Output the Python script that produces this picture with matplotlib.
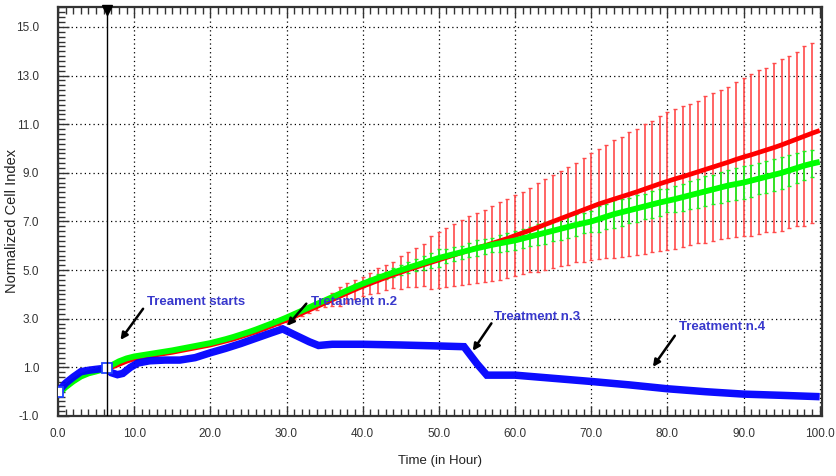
import matplotlib
matplotlib.use("Agg")
import matplotlib.pyplot as plt
import matplotlib.transforms as mtransforms
from matplotlib.ticker import MultipleLocator, FixedLocator
import numpy as np

# hourly sampling of the two growing cell populations
hours = list(range(0, 101))

red_mean = [
    -0.05, 0.20, 0.45, 0.65, 0.78, 0.85, 0.92, 1.00, 1.12, 1.25,
    1.35, 1.42, 1.47, 1.52, 1.57, 1.62, 1.68, 1.74, 1.80, 1.86,
    1.92, 2.00, 2.08, 2.16, 2.26, 2.36, 2.46, 2.58, 2.70, 2.82,
    2.94, 3.08, 3.22, 3.36, 3.50, 3.64, 3.78, 3.92, 4.06, 4.20,
    4.33, 4.45, 4.57, 4.69, 4.80, 4.91, 5.02, 5.12, 5.22, 5.32,
    5.42, 5.52, 5.62, 5.72, 5.82, 5.92, 6.00, 6.10, 6.20, 6.30,
    6.42, 6.53, 6.64, 6.76, 6.88, 7.00, 7.12, 7.24, 7.36, 7.48,
    7.60, 7.72, 7.82, 7.92, 8.02, 8.12, 8.22, 8.33, 8.44, 8.55,
    8.65, 8.75, 8.84, 8.94, 9.04, 9.14, 9.24, 9.34, 9.44, 9.55,
    9.65, 9.74, 9.84, 9.94, 10.04, 10.15, 10.27, 10.39, 10.51, 10.63,
    10.74,
]

green_mean = [
    -0.10, 0.18, 0.42, 0.62, 0.75, 0.83, 0.92, 1.08, 1.25, 1.37,
    1.45, 1.50, 1.55, 1.60, 1.65, 1.70, 1.76, 1.82, 1.88, 1.94,
    2.00, 2.08, 2.16, 2.25, 2.35, 2.45, 2.56, 2.68, 2.80, 2.92,
    3.05, 3.19, 3.33, 3.47, 3.61, 3.75, 3.89, 4.03, 4.17, 4.31,
    4.44, 4.56, 4.68, 4.79, 4.90, 5.00, 5.10, 5.20, 5.30, 5.40,
    5.50, 5.58, 5.66, 5.74, 5.82, 5.90, 5.97, 6.04, 6.10, 6.16,
    6.22, 6.30, 6.38, 6.46, 6.54, 6.62, 6.70, 6.78, 6.86, 6.93,
    7.00, 7.10, 7.20, 7.30, 7.38, 7.46, 7.54, 7.62, 7.70, 7.78,
    7.85, 7.92, 8.00, 8.08, 8.16, 8.24, 8.32, 8.40, 8.48, 8.54,
    8.60, 8.68, 8.76, 8.84, 8.92, 9.00, 9.10, 9.20, 9.30, 9.38,
    9.45,
]

# error bars are reported from hour 26 to hour 99
err_start = 26
red_err = [
    0.04, 0.05, 0.06, 0.07, 0.08, 0.09, 0.10, 0.12, 0.15, 0.17,
    0.26, 0.38, 0.41, 0.39, 0.38, 0.45, 0.50, 0.52, 0.52, 0.69,
    0.72, 0.80, 0.86, 1.08, 1.15, 1.21, 1.29, 1.32, 1.40, 1.43,
    1.47, 1.53, 1.60, 1.61, 1.66, 1.67, 1.72, 1.82, 1.87, 1.92,
    1.95, 2.01, 2.03, 2.15, 2.20, 2.27, 2.34, 2.41, 2.47, 2.56,
    2.58, 2.68, 2.70, 2.77, 2.84, 2.87, 2.89, 2.89, 2.92, 3.02,
    3.04, 3.08, 3.11, 3.20, 3.24, 3.33, 3.37, 3.39, 3.46, 3.54,
    3.52, 3.57, 3.69, 3.69,
]
green_err = [
    0.03, 0.03, 0.04, 0.04, 0.05, 0.05, 0.05, 0.06, 0.06, 0.07,
    0.08, 0.09, 0.10, 0.11, 0.12, 0.13, 0.14, 0.15, 0.17, 0.20,
    0.22, 0.25, 0.28, 0.32, 0.38, 0.30, 0.28, 0.27, 0.30, 0.33,
    0.32, 0.30, 0.35, 0.38, 0.40, 0.41, 0.40, 0.42, 0.45, 0.43,
    0.45, 0.47, 0.44, 0.41, 0.45, 0.54, 0.50, 0.58, 0.55, 0.52,
    0.56, 0.50, 0.55, 0.54, 0.47, 0.52, 0.56, 0.58, 0.60, 0.62,
    0.60, 0.63, 0.65, 0.66, 0.69, 0.66, 0.64, 0.65, 0.66, 0.65,
    0.63, 0.62, 0.60, 0.57,
]

# treated well: sparse read-out of the blue trace
blue_hours = [0, 1, 2, 3, 4, 5, 6.4, 7, 7.8, 8.5, 9.5, 10.5, 12, 14, 16, 18,
              20, 22, 24, 26, 28, 29.5, 31, 33, 34.2, 36, 40, 45, 50, 53.3,
              55, 56.3, 60, 65, 70, 75, 80, 85, 90, 95, 99.5]
blue_ci = [0.0, 0.35, 0.60, 0.82, 0.88, 0.92, 0.97, 0.78, 0.70, 0.75, 1.00,
           1.18, 1.27, 1.30, 1.30, 1.40, 1.60, 1.78, 1.98, 2.20, 2.42, 2.58,
           2.35, 2.05, 1.90, 1.95, 1.95, 1.92, 1.88, 1.85, 1.15, 0.68, 0.68,
           0.55, 0.42, 0.28, 0.12, 0.0, -0.10, -0.15, -0.20]
blue_marked_hours = [0, 6.4]
blue_marked_ci = [0.0, 0.97]

treatment_hour = 6.4

notes = [
    ("Treament starts", (11.7, 3.70), (11.17, 3.41), (8.2, 2.13)),
    ("Tretament n.2", (33.2, 3.67), (32.6, 3.62), (30.1, 2.71)),
    ("Treatment n.3", (57.25, 3.08), (56.9, 2.81), (54.45, 1.68)),
    ("Treatment n.4", (81.5, 2.64), (80.98, 2.30), (78.1, 1.02)),
]

x_ticks = [0, 10, 20, 30, 40, 50, 60, 70, 80, 90, 100]
y_ticks = [-1, 1, 3, 5, 7, 9, 11, 13, 15]

plt.rcParams["font.family"] = ["Liberation Sans", "DejaVu Sans"]

fig = plt.figure(figsize=(8.36, 4.76), dpi=100)
ax = fig.add_axes([58 / 836, 1 - 416 / 476, 764 / 836, 409 / 476])

h = np.array(hours)
sel = slice(err_start, err_start + len(red_err))
ax.errorbar(h[sel], np.array(red_mean)[sel], yerr=red_err, fmt="none",
            ecolor="#ff4a4a", elinewidth=1.2, capsize=1.6, capthick=1.0,
            zorder=2)
ax.errorbar(h[sel], np.array(green_mean)[sel], yerr=green_err, fmt="none",
            ecolor="#22ee22", elinewidth=1.3, capsize=1.6, capthick=1.0,
            zorder=3)
ax.plot(hours, red_mean, color="#ff0000", lw=3.4, zorder=4,
        solid_capstyle="butt")
ax.plot(hours, green_mean, color="#00ff00", lw=4.2, zorder=5,
        solid_capstyle="butt")
ax.plot(blue_hours, blue_ci, color="#0000ff", lw=5.4, zorder=6,
        solid_joinstyle="miter", alpha=0.95)
ax.plot(blue_marked_hours, blue_marked_ci, ls="none", marker="s", ms=7,
        mfc="white", mec="#2244ff", mew=1.3, zorder=7)

# treatment marker
ax.axvline(treatment_hour, color="black", lw=1.0, zorder=8)
trans = mtransforms.blended_transform_factory(ax.transData, ax.transAxes)
ax.plot([treatment_hour], [0.993], marker="v", ms=7, color="black",
        transform=trans, clip_on=False, zorder=9)

for text, txy, tail, head in notes:
    ax.text(txy[0], txy[1], text, color="#3838cc", fontsize=9.5,
            fontweight="bold", ha="left", va="center", zorder=10)
    ax.annotate("", xy=head, xytext=tail,
                arrowprops=dict(arrowstyle="-|>", color="black", lw=1.8,
                                mutation_scale=10, shrinkA=0, shrinkB=0),
                zorder=10)

ax.set_xlim(0, 100.3)
ax.set_ylim(-1, 15.82)
ax.xaxis.set_major_locator(FixedLocator(x_ticks))
ax.xaxis.set_minor_locator(MultipleLocator(1))
ax.yaxis.set_major_locator(FixedLocator(y_ticks))
ax.yaxis.set_minor_locator(MultipleLocator(0.2))
ax.set_xticklabels([f"{v:.1f}" for v in x_ticks], fontsize=8.5,
                   color="#333333")
ax.set_yticklabels([f"{v:.1f}" for v in y_ticks], fontsize=8.5,
                   color="#333333")

ax.tick_params(axis="x", which="both", direction="in", top=True,
               bottom=True, color="#333333")
ax.tick_params(axis="x", which="major", length=7, width=1, pad=8.5)
ax.tick_params(axis="x", which="minor", length=5, width=1)
ax.tick_params(axis="y", which="both", direction="in", left=True,
               right=False, color="#333333")
ax.tick_params(axis="y", which="major", length=8, width=1, pad=13.5)
ax.tick_params(axis="y", which="minor", length=5, width=1)

ax.grid(True, which="major", color="black", ls=(0, (1, 2.5)), lw=0.9)
for s in ax.spines.values():
    s.set_color("#333333")
    s.set_linewidth(1.6)

ax.set_xlabel("Time (in Hour)", fontsize=9.5, color="#222222")
ax.xaxis.set_label_coords(0.5, -(455 - 416) / 409)
ax.set_ylabel("Normalized Cell Index", fontsize=10.5, color="#222222")
ax.yaxis.set_label_coords(-(58 - 19) / 764, 0.5 - (221 - 211.5) / 409)

fig.savefig("out.png", dpi=100)
